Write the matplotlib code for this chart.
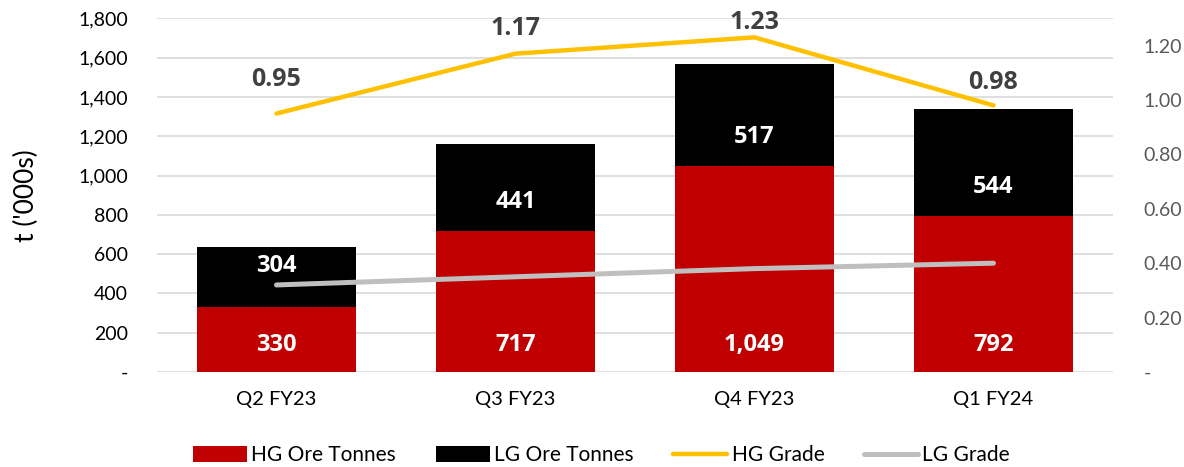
import matplotlib.pyplot as plt
import numpy as np

# data
quarters = ["Q2 FY23", "Q3 FY23", "Q4 FY23", "Q1 FY24"]
hg_tonnes = [330, 717, 1049, 792]
lg_tonnes = [304, 441, 517, 544]
hg_grade = [0.95, 1.17, 1.23, 0.98]
lg_grade = [0.32, 0.35, 0.38, 0.40]

plt.rcParams['font.family'] = ['Lato', 'DejaVu Sans']
bold = ['Open Sans', 'DejaVu Sans']

fig = plt.figure(figsize=(11.84, 4.67), dpi=100)
ax = fig.add_axes([0.1326, 0.2034, 0.8074, 0.7574])
ax2 = ax.twinx()

x = np.arange(len(quarters))
w = 0.665
ax.bar(x, hg_tonnes, w, color="#C00000", label="HG Ore Tonnes", zorder=2)
ax.bar(x, lg_tonnes, w, bottom=hg_tonnes, color="#000000", label="LG Ore Tonnes", zorder=2)

# labels sit near the base of each segment (inside base)
lg_pad = [41, 29, 29, 29]
for i in range(len(x)):
    ax.annotate(f"{hg_tonnes[i]:,}", (x[i], 0), xytext=(0, 27 * 0.72),
                textcoords="offset points", ha="center", va="center",
                color="white", fontsize=17, fontweight="bold", family=bold)
    ax.annotate(f"{lg_tonnes[i]:,}", (x[i], hg_tonnes[i]), xytext=(0, lg_pad[i] * 0.72),
                textcoords="offset points", ha="center", va="center",
                color="white", fontsize=17, fontweight="bold", family=bold, zorder=5)

ax2.plot(x, hg_grade, color="#FFC000", lw=3.2, label="HG Grade", solid_capstyle="round")
ax2.plot(x, lg_grade, color="#BFBFBF", lw=3.6, label="LG Grade", solid_capstyle="round")
grade_pad = [34, 25, 15, 23]
for i in range(len(x)):
    ax2.annotate(f"{hg_grade[i]:.2f}", (x[i], hg_grade[i]), xytext=(0, grade_pad[i] * 0.72),
                 textcoords="offset points", ha="center", va="center",
                 color="#404040", fontsize=18, fontweight="bold", family=bold)

ax.set_xlim(-0.5, len(x) - 0.5)
ax.set_ylim(0, 1800)
ax2.set_ylim(0, 1.3)
yt = np.arange(0, 1801, 200)
ax.set_yticks(yt)
ax.set_yticklabels(["-"] + [f"{v:,}" for v in yt[1:]])
rt = np.arange(0, 1.21, 0.2)
ax2.set_yticks(rt)
ax2.set_yticklabels(["-"] + [f"{v:.2f}" for v in rt[1:]])
ax.set_xticks(x)
ax.set_xticklabels(quarters)

ax.grid(axis="y", color="#D9D9D9", lw=1.2, zorder=0)
ax.set_axisbelow(True)
for a in (ax, ax2):
    for s in a.spines.values():
        s.set_visible(False)
    a.tick_params(length=0)
ax.tick_params(axis="y", labelsize=14, colors="#000000", pad=21)
ax.tick_params(axis="x", labelsize=14.5, pad=14)
ax2.tick_params(axis="y", labelsize=14, labelcolor="#595959", pad=22)
ax.set_ylabel("t ('000s)", fontsize=19, labelpad=28)

h1, l1 = ax.get_legend_handles_labels()
h2, l2 = ax2.get_legend_handles_labels()
fig.legend(h1 + h2, l1 + l2, loc="center", bbox_to_anchor=(0.508, 0.025), ncol=4,
           frameon=False, fontsize=15, handlelength=2.6, handleheight=0.8,
           columnspacing=1.9, handletextpad=0.2)

fig.savefig("out.png", dpi=100)
